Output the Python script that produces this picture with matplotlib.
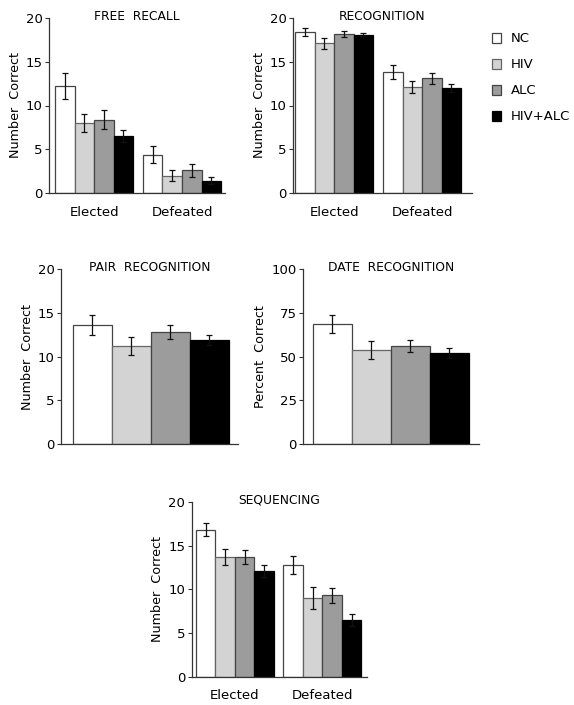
import matplotlib
matplotlib.use("Agg")
import matplotlib.pyplot as plt
import numpy as np
from matplotlib.patches import Rectangle

plt.rcParams['font.family'] = ['DejaVu Sans']

groups = ["NC", "HIV", "ALC", "HIV+ALC"]
colors = ["#ffffff", "#d3d3d3", "#9c9c9c", "#000000"]
edges = ["#444444", "#666666", "#444444", "#000000"]
conditions = ["Elected", "Defeated"]

free_recall = [[12.2, 8.0, 8.4, 6.5], [4.4, 2.0, 2.6, 1.4]]
free_recall_err = [[1.5, 1.0, 1.05, 0.65], [1.0, 0.6, 0.75, 0.4]]

recognition = [[18.4, 17.1, 18.2, 18.1], [13.8, 12.1, 13.1, 12.0]]
recognition_err = [[0.45, 0.65, 0.35, 0.15], [0.8, 0.65, 0.65, 0.5]]

pair_recog = [13.6, 11.2, 12.8, 11.9]
pair_recog_err = [1.1, 1.0, 0.75, 0.55]

date_recog = [68.5, 53.6, 55.9, 52.1]
date_recog_err = [5.0, 5.0, 3.6, 2.7]

sequencing = [[16.8, 13.7, 13.7, 12.1], [12.8, 9.0, 9.3, 6.5]]
sequencing_err = [[0.75, 0.9, 0.8, 0.7], [1.05, 1.25, 0.85, 0.7]]

W, H = 574, 705
fig = plt.figure(figsize=(W / 100, H / 100), dpi=100)


def make_ax(x0, x1, ytop, ybot):
    return fig.add_axes([x0 / W, 1 - ybot / H, (x1 - x0) / W, (ybot - ytop) / H])


def style(ax, ymax, step, ylabel, title):
    ax.set_ylim(0, ymax)
    ax.set_yticks(np.arange(0, ymax + 1, step))
    for s in ["top", "right"]:
        ax.spines[s].set_visible(False)
    for s in ["left", "bottom"]:
        ax.spines[s].set_color("#333333")
        ax.spines[s].set_linewidth(0.9)
    ax.tick_params(axis="y", length=3, width=0.8, pad=1.5, labelsize=9.5, color="#333333")
    ax.tick_params(axis="x", length=0)
    ax.set_ylabel(ylabel, fontsize=9.2, labelpad=3)
    ax.set_title(title, fontsize=8.8, pad=2, y=0.975)


def draw_bars(ax, vals, errs, positions):
    for i, (v, e, p) in enumerate(zip(vals, errs, positions)):
        ax.bar(p, v, width=1.0, color=colors[i], edgecolor=edges[i], linewidth=0.9, zorder=2)
        ax.errorbar(p, v, yerr=e, fmt="none", ecolor="#111111", elinewidth=0.9,
                    capsize=2.3, capthick=0.9, zorder=3)


def grouped(ax, data, err, xlim):
    centers = []
    for g in range(2):
        pos = [g * 4.5 + k for k in range(4)]
        draw_bars(ax, data[g], err[g], pos)
        centers.append(np.mean(pos))
    ax.set_xlim(*xlim)
    ax.set_xticks(centers)
    ax.set_xticklabels(conditions, fontsize=9.5)
    ax.tick_params(axis="x", pad=9)


# Panel 1: free recall
ax1 = make_ax(49, 225, 18, 193)
grouped(ax1, free_recall, free_recall_err, (-0.81, 8.2))
style(ax1, 20, 5, "Number  Correct", "FREE  RECALL")

# Panel 2: recognition
ax2 = make_ax(293, 472, 18, 193)
grouped(ax2, recognition, recognition_err, (-0.6, 8.55))
style(ax2, 20, 5, "Number  Correct", "RECOGNITION")

# Panel 3: pair recognition
ax3 = make_ax(61, 238, 269, 444)
draw_bars(ax3, pair_recog, pair_recog_err, range(4))
ax3.set_xlim(-0.8, 3.73)
ax3.set_xticks([])
style(ax3, 20, 5, "Number  Correct", "PAIR  RECOGNITION")

# Panel 4: date recognition
ax4 = make_ax(303, 479, 269, 444)
draw_bars(ax4, date_recog, date_recog_err, range(4))
ax4.set_xlim(-0.75, 3.76)
ax4.set_xticks([])
style(ax4, 100, 25, "Percent  Correct", "DATE  RECOGNITION")

# Panel 5: sequencing
ax5 = make_ax(191.5, 366.5, 502, 676.5)
grouped(ax5, sequencing, sequencing_err, (-0.72, 8.26))
style(ax5, 20, 5, "Number  Correct", "SEQUENCING")

# Legend
for i, g in enumerate(groups):
    yc = 38 + i * 26
    fig.patches.append(Rectangle((492 / W, 1 - (yc + 4.5) / H), 9 / W, 9 / H,
                                 transform=fig.transFigure, facecolor=colors[i],
                                 edgecolor=edges[i], linewidth=0.9))
    fig.text(511 / W, 1 - yc / H, g, fontsize=9.5, va="center", ha="left")

fig.savefig("out.png", dpi=100)
